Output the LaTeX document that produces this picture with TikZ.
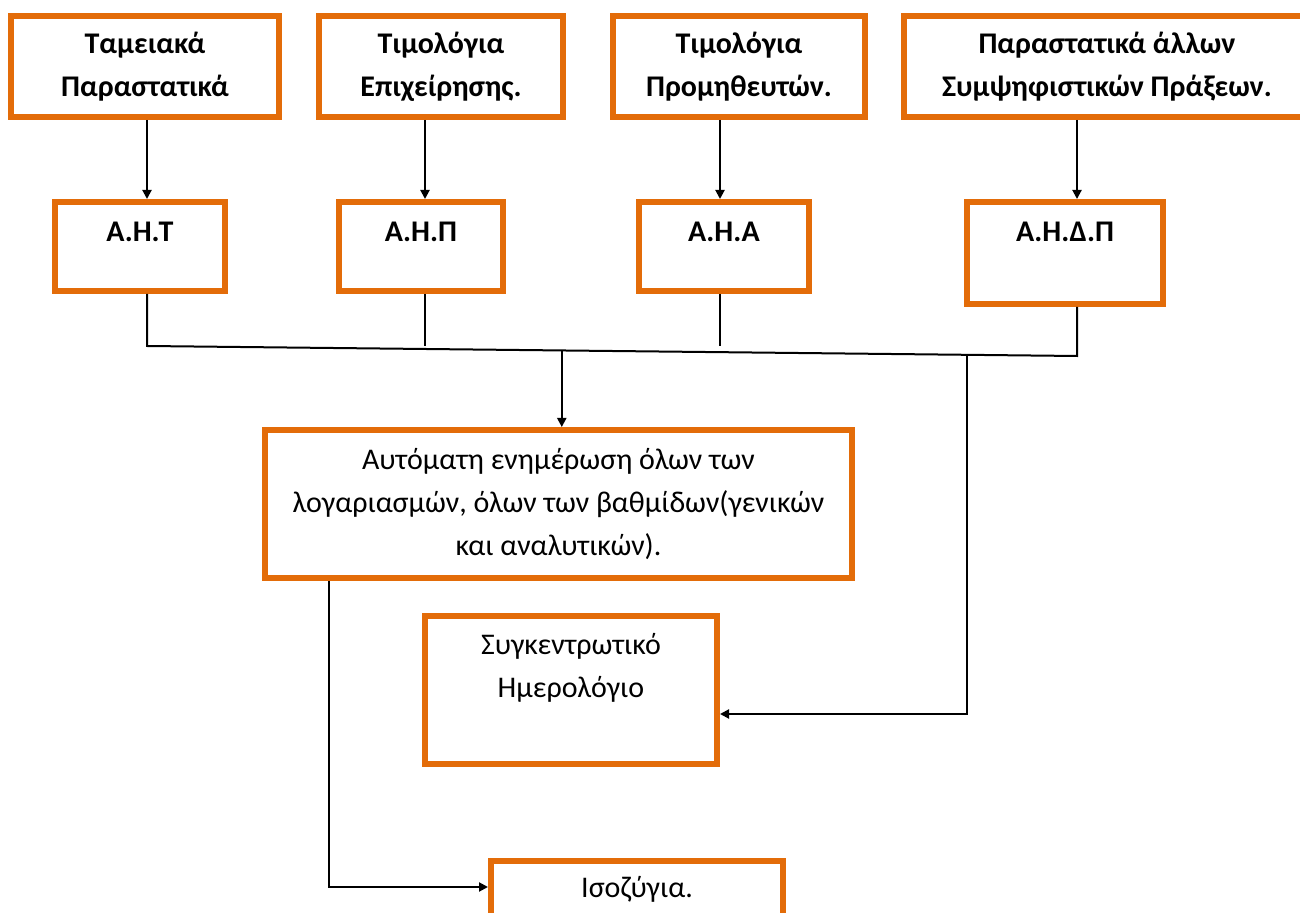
\documentclass[tikz,border=0pt]{standalone}
\usepackage{fontspec}
\setmainfont{Carlito}
\usepackage{tikz}
\usetikzlibrary{positioning,arrows.meta,calc}
\definecolor{boxorange}{HTML}{E36C09}
\tikzset{
     box/.style={rectangle, draw=boxorange, line width=3pt, inner sep=0pt,
                 align=center, font=\fontsize{15}{21.5}\selectfont},
     head/.style={box, font=\bfseries\fontsize{15}{21.5}\selectfont},
     arrow/.style={-{Triangle[length=4.5pt,width=4.5pt]}}
     }
\tikzstyle{wire} = [draw, line width=1pt]
\tikzstyle{lbl} = [align=center, inner sep=0pt, font=\fontsize{15}{21.5}\selectfont]
\tikzstyle{blbl} = [lbl, font=\bfseries\fontsize{15}{21.5}\selectfont]

\begin{document}
\begin{tikzpicture}[x=0.5pt, y=-0.5pt]
    \useasboundingbox (0,0) rectangle (1300,913);

    % source documents
    \node [head, minimum width=134pt, minimum height=50.5pt] (tam) at (145,66.5) {Ταμειακά\\Παραστατικά};
    \node [head, minimum width=122pt, minimum height=50.5pt] (timep) at (441,66.5) {Τιμολόγια\\Επιχείρησης.};
    \node [head, minimum width=126pt, minimum height=50.5pt] (timpr) at (739,66.5) {Τιμολόγια\\Προμηθευτών.};
    \node [head, minimum width=203pt, minimum height=50.5pt] (parast) at (1107,66.5) {Παραστατικά άλλων\\Συμψηφιστικών Πράξεων.};

    % journals
    \node [box, minimum width=85pt, minimum height=44.5pt] (aht) at (140,246.5) {};
    \node [box, minimum width=82pt, minimum height=44.5pt] (ahp) at (421,246.5) {};
    \node [box, minimum width=85pt, minimum height=44.5pt] (aha) at (724,246.5) {};
    \node [box, minimum width=98pt, minimum height=51pt] (ahdp) at (1065,253) {};
    \node [blbl] (aht-t) at (140,232) {Α.Η.Τ};
    \node [blbl] (ahp-t) at (421,232) {Α.Η.Π};
    \node [blbl] (aha-t) at (724,232) {Α.Η.Α};
    \node [blbl] (ahdp-t) at (1065,232) {Α.Η.Δ.Π};

    % results
    \node [box, minimum width=293.5pt, minimum height=74pt] (auto) at (558.5,504) {Αυτόματη ενημέρωση όλων των\\λογαριασμών, όλων των βαθμίδων(γενικών\\και αναλυτικών).};
    \node [box, minimum width=146pt, minimum height=74pt] (sygk) at (571,690) {};
    \node [lbl] (sygk-t) at (571,668) {Συγκεντρωτικό\\Ημερολόγιο};
    \node [box, minimum width=146pt, minimum height=50pt, anchor=north] (isoz) at (637,858) {};
    \node [lbl] (isoz-t) at (637,889) {Ισοζύγια.};

    \coordinate (col1) at (147,0);
    \coordinate (col2) at (425,0);
    \coordinate (col3) at (720,0);
    \coordinate (col4) at (1077,0);
    \coordinate (busL) at (147,346);
    \coordinate (busR) at (1077,356);
    \coordinate (busM) at ($(busL)!0.446!(busR)$);
    \coordinate (busS) at ($(busL)!0.8817!(busR)$);
    \coordinate (sygk-in) at ([yshift=-12pt]sygk.east);
    \coordinate (auto-out) at ([xshift=33.5pt]auto.south west);
    \coordinate (isoz-in) at ([yshift=-14.5pt]isoz.north west);

    \path [wire, arrow] (tam.south -| col1) -- (aht.north -| col1);
    \path [wire, arrow] (timep.south -| col2) -- (ahp.north -| col2);
    \path [wire, arrow] (timpr.south -| col3) -- (aha.north -| col3);
    \path [wire, arrow] (parast.south -| col4) -- (ahdp.north -| col4);

    \path [wire] (aht.south -| col1) -- (busL) -- (busR) -- (ahdp.south -| col4);
    \path [wire] (ahp.south -| col2) -- (col2 |- busL);
    \path [wire] (aha.south -| col3) -- (col3 |- busL);

    \path [wire, arrow] (busM) -- (busM |- auto.north);
    \path [wire, arrow] (busS) |- (sygk-in);
    \path [wire, arrow] (auto-out) |- (isoz-in);
\end{tikzpicture}
\end{document}
